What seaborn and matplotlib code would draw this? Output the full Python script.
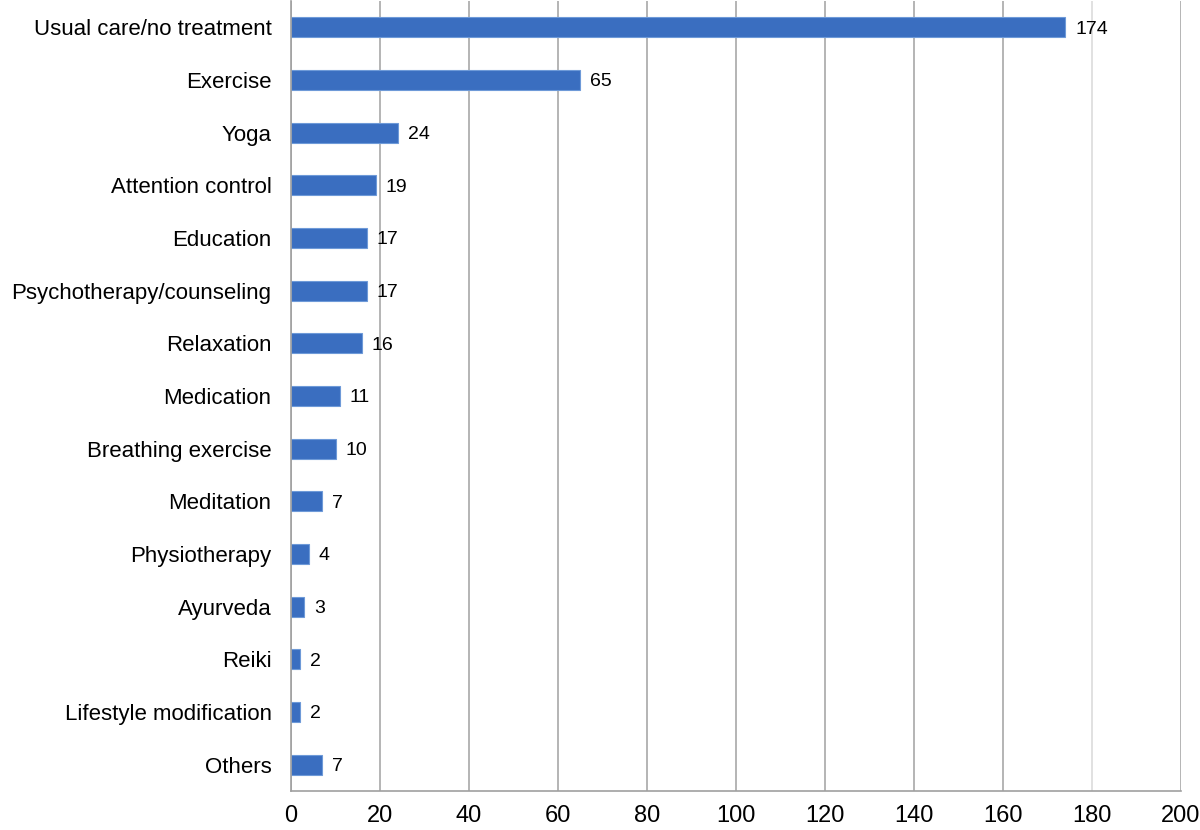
import matplotlib
matplotlib.use("Agg")
import matplotlib.pyplot as plt
import seaborn as sns
import pandas as pd
import numpy as np

categories = ["Usual care/no treatment", "Exercise", "Yoga", "Attention control",
              "Education", "Psychotherapy/counseling", "Relaxation", "Medication",
              "Breathing exercise", "Meditation", "Physiotherapy", "Ayurveda",
              "Reiki", "Lifestyle modification", "Others"]
counts = [174, 65, 24, 19, 17, 17, 16, 11, 10, 7, 4, 3, 2, 2, 7]
x_ticks = [0, 20, 40, 60, 80, 100, 120, 140, 160, 180, 200]

df = pd.DataFrame({"Intervention": categories, "Count": counts})

sns.set_style("white")
plt.rcParams['font.family'] = ['Liberation Sans', 'DejaVu Sans']

fig = plt.figure(figsize=(12, 8.3), dpi=100)
ax = fig.add_axes([0.2425, 0.047, 0.7417, 0.952])

sns.barplot(data=df, x="Count", y="Intervention", orient="h", color="#3A6EC0",
            saturation=1, width=0.38, edgecolor="#6E9AD8", linewidth=0.8, ax=ax)

for i, v in enumerate(counts):
    ax.text(v + 2.2, i, str(v), va="center_baseline", ha="left", fontsize=14, color="black")

ax.set_xlim(0, 200)
ax.set_ylim(len(categories) - 0.5, -0.5)
ax.set_xticks(x_ticks)
ax.set_xticklabels([str(t) for t in x_ticks], fontsize=17, color="black")
ax.tick_params(axis="y", length=0, labelsize=16, labelcolor="black", pad=14)
ax.set_yticks(np.arange(-0.5, len(categories), 1.0), minor=True)
ax.tick_params(axis="y", which="minor", length=5, color="#A0A0A0", direction="out")
ax.tick_params(axis="x", length=6, color="#A0A0A0", direction="out", pad=4)
ax.set_xlabel("")
ax.set_ylabel("")

ax.set_axisbelow(True)
ax.xaxis.grid(True, color="#A8A8A8", linewidth=1.2)
ax.yaxis.grid(False)
# the 180 gridline is faint in the original
ax.get_xgridlines()[9].set_color("#DCDCDC")

for side in ["top", "right"]:
    ax.spines[side].set_visible(False)
for side in ["left", "bottom"]:
    ax.spines[side].set_color("#A0A0A0")
    ax.spines[side].set_linewidth(1.2)

fig.savefig("out.png", dpi=100)
